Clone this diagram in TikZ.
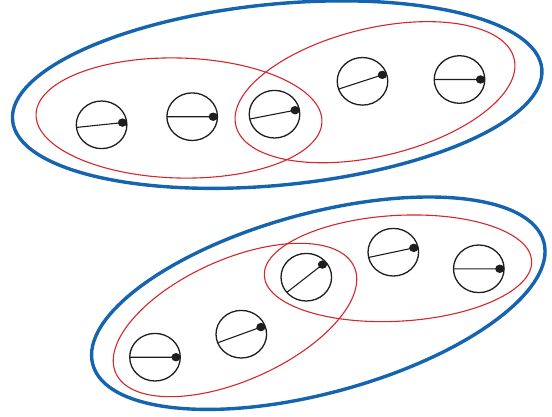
\documentclass[tikz,border=0pt]{standalone}
\usetikzlibrary{shapes.geometric,calc}
\definecolor{grpblue}{RGB}{21,100,176}
\definecolor{grpred}{RGB}{214,38,43}
\definecolor{ink}{RGB}{30,30,30}
\tikzset{
  grp/.style={ellipse, draw=grpblue, line width=3.4pt, inner sep=0pt, outer sep=0pt},
  subgrp/.style={ellipse, draw=grpred, line width=1.1pt, inner sep=0pt, outer sep=0pt},
  spin/.style={ellipse, draw=ink, line width=1.3pt, minimum width=50.6pt, minimum height=47.6pt, inner sep=0pt, outer sep=0pt},
  arm/.style={draw=ink, line width=1.1pt},
  knob/.style={fill=ink},
}
\newcommand\spinarm[2]{%
  \coordinate (#1-dot) at ($(#1.center)!0.83!(#1.#2)$);
  \draw[arm] ($(#1.center)!-1!(#1.#2)$) -- (#1-dot);
  \fill[knob] (#1-dot) ellipse [x radius=4.6, y radius=4.2];
}
\begin{document}
\begin{tikzpicture}[x=1pt,y=-1pt]
\path[use as bounding box] (0,0) rectangle (552,416);
% top group
\node[subgrp, minimum width=286pt, minimum height=120pt, rotate=-1.5] (ta) at (179,118) {};
\node[subgrp, minimum width=286.2pt, minimum height=127.8pt, rotate=13.5] (tb) at (375,92.2) {};
\node[grp, minimum width=531.8pt, minimum height=181pt, rotate=5.6] (tg) at (277.2,94.6) {};
\node[spin] (t1) at (101.6,124.8) {};
\node[spin] (t2) at (192.2,116.7) {};
\node[spin] (t3) at (274.5,114.2) {};
\node[spin] (t4) at (362.5,81.3) {};
\node[spin] (t5) at (459.5,79.5) {};
\spinarm{t1}{6}
\spinarm{t2}{0}
\spinarm{t3}{11}
\spinarm{t4}{18}
\spinarm{t5}{0}
% bottom group
\node[subgrp, minimum width=261pt, minimum height=121.2pt, rotate=24] (ba) at (235,320) {};
\node[subgrp, minimum width=267.8pt, minimum height=105.8pt, rotate=3.2] (bb) at (398,268.3) {};
\node[grp, minimum width=467.4pt, minimum height=179.8pt, rotate=15.2] (bg) at (318.3,303.2) {};
\node[spin] (b1) at (155,357.2) {};
\node[spin] (b2) at (241.3,334.2) {};
\node[spin] (b3) at (306.3,277.2) {};
\node[spin] (b4) at (393.3,252.2) {};
\node[spin] (b5) at (478.8,268.8) {};
\spinarm{b1}{0}
\spinarm{b2}{20}
\spinarm{b3}{38}
\spinarm{b4}{12}
\spinarm{b5}{0}
\end{tikzpicture}
\end{document}
